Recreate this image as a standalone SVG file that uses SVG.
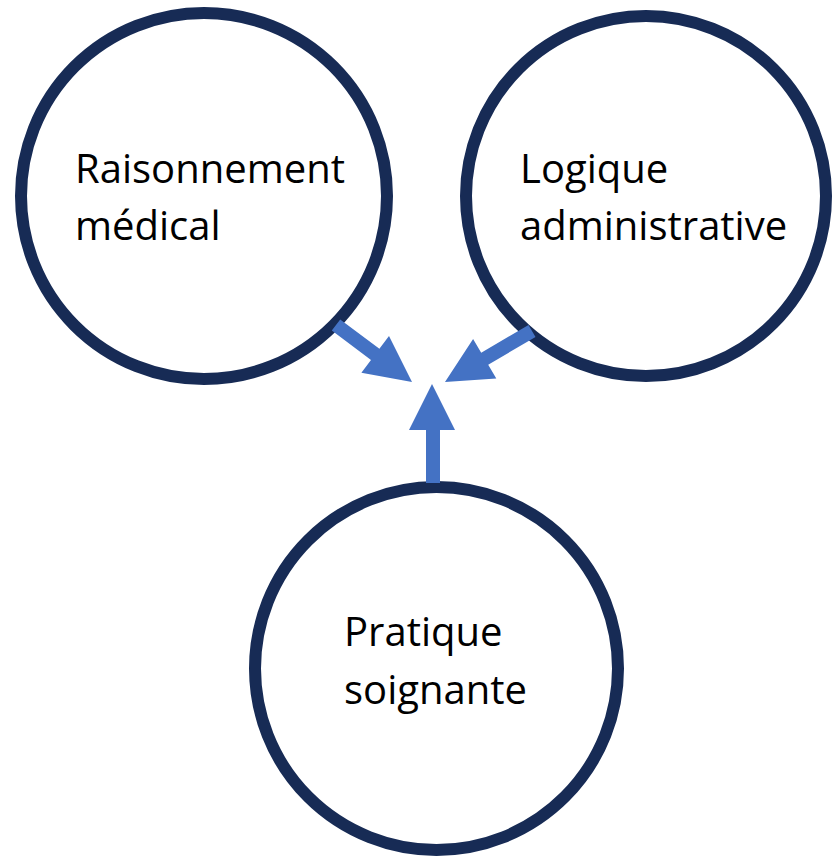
<svg xmlns="http://www.w3.org/2000/svg" width="833" height="857" viewBox="0 0 833 857">
  <style>
    .node circle { fill: #ffffff; stroke: #172b55; stroke-width: 12; }
    .node text { font-family: "Open Sans", "Noto Sans", "Liberation Sans", sans-serif; font-size: 40px; fill: #000000; }
    .arrow { fill: #4472c4; stroke: none; }
  </style>
  <rect width="833" height="857" fill="#ffffff"/>

  <g id="raisonnement-medical" class="node">
    <circle cx="204" cy="196" r="183"/>
    <text x="75" y="183">Raisonnement</text>
    <text x="75" y="240">médical</text>
  </g>

  <g id="logique-administrative" class="node">
    <circle cx="646" cy="196" r="180"/>
    <text x="520" y="183">Logique</text>
    <text x="520" y="240">administrative</text>
  </g>

  <g id="pratique-soignante" class="node">
    <circle cx="436.5" cy="668.5" r="181.5"/>
    <text x="344" y="646">Pratique</text>
    <text x="344" y="704">soignante</text>
  </g>

  <g id="connectors">
    <!-- from Raisonnement médical -->
    <polygon class="arrow" points="340.2,319.4 379.4,348.8 389,336 412,382 361.4,372.8 371,360 331.8,330.6"/>
    <!-- from Logique administrative -->
    <polygon class="arrow" points="528.5,325 481.2,352.7 473.1,338.9 445,382 496.3,378.5 488.2,364.7 535.5,337"/>
    <!-- from Pratique soignante -->
    <polygon class="arrow" points="426,483 426,430 409,430 432,384 455,430 440,430 440,483"/>
  </g>
</svg>
